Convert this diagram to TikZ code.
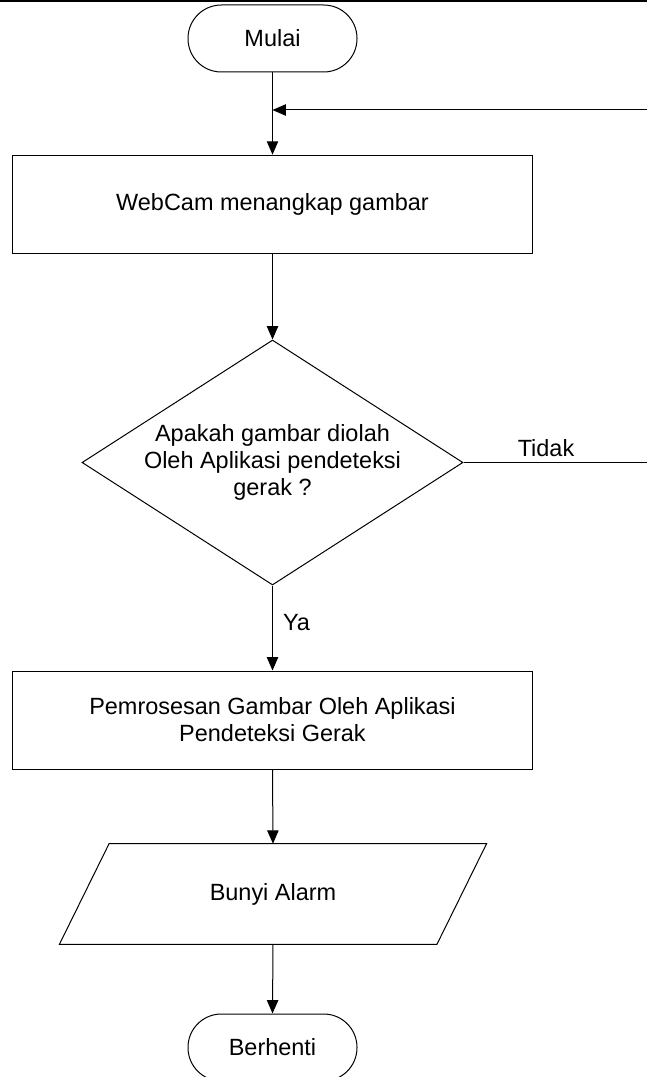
\documentclass[tikz,border=0pt]{standalone}
\usepackage{fontspec}
\setmainfont{Liberation Sans}
\usetikzlibrary{shapes.geometric,arrows.meta}
\begin{document}
\begin{tikzpicture}[x=0.75pt,y=-0.75pt,
  every node/.style={font=\fontsize{17.6}{20.25}\selectfont, text=black},
  term/.style={draw, line width=0.75pt, rounded corners=25pt, minimum width=126.75pt, minimum height=50.25pt, inner sep=0pt},
  procbox/.style={draw, line width=0.75pt, minimum width=390pt, minimum height=74pt, inner sep=0pt, align=center},
  decbox/.style={diamond, draw, line width=0.75pt, minimum width=285.75pt, minimum height=183.75pt, inner sep=0pt},
  iobox/.style={minimum width=282.75pt, minimum height=75pt, inner sep=0pt},
  conn/.style={line width=0.75pt, draw=black},
  arr/.style={conn, -{Triangle[length=10pt,width=8.5pt]}}
]
\useasboundingbox (0,0) rectangle (647,1077);
\clip (0,0) rectangle (647,1077);
\fill[black] (0,0) rectangle (647,2.5);

\node[term] (m) at (272.5,38.5) {Mulai};
\node[procbox] (w) at (272.5,204.5) {WebCam menangkap gambar};
\node[decbox] (d) at (272.5,462.5) {};
\node[align=center] (dt) at (d.center) {Apakah gambar diolah\\Oleh Aplikasi pendeteksi\\gerak ?};
\node[procbox, minimum height=73.5pt] (p) at (272.5,720) {Pemrosesan Gambar Oleh Aplikasi\\Pendeteksi Gerak};
\node[iobox] (b) at (273,894) {Bunyi Alarm};
\draw[line width=0.75pt] ([xshift=18.6pt]b.north west) -- ([xshift=18.6pt]b.north east)
  -- ([xshift=-18.6pt]b.south east) -- ([xshift=-18.6pt]b.south west) -- cycle;
\node[term] (e) at (272.5,1047.5) {Berhenti};

\coordinate (join) at (272.5,110);
\coordinate (fbstart) at (647,110);
\coordinate (tidakend) at (647,462.5);

\draw[arr] (m.south) -- (w.north);
\draw[arr] (fbstart) -- (join);
\draw[arr] (w.south) -- (d.north);
\draw[conn] (d.east) -- (tidakend);
\node (tidak) at (546,448) {Tidak};
\draw[arr] (d.south) -- (p.north);
\node (ya) at (296.5,623) {Ya};
\draw[arr] (p.south) -- (b.north);
\draw[arr] (b.south) -- (e.north);
\end{tikzpicture}
\end{document}
